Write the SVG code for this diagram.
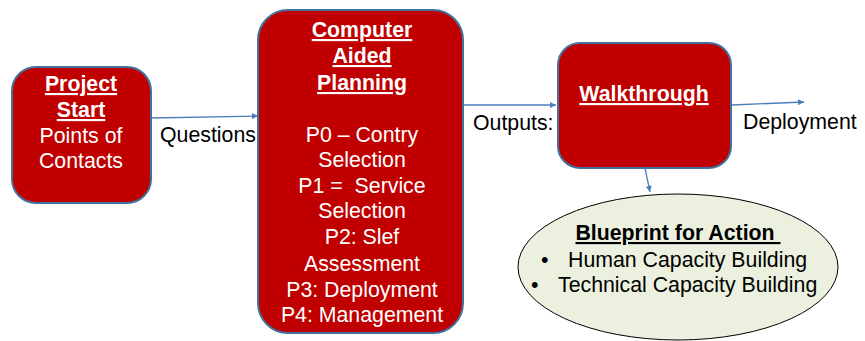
<svg xmlns="http://www.w3.org/2000/svg" width="865" height="341" viewBox="0 0 865 341">
<style>
.box{fill:#c00000;stroke:#41719c;stroke-width:2}
.wt{fill:#fff;font-family:"Liberation Sans",Arial,sans-serif;font-size:21.3px;text-anchor:middle}
.b{font-weight:bold;text-decoration:underline}
.lbl{fill:#000;font-family:"Liberation Sans",Arial,sans-serif;font-size:21.3px}
.con{stroke:#4a7ebb;stroke-width:1.3;fill:none;marker-end:url(#ah)}
</style>
<defs>
<marker id="ah" viewBox="0 0 10 10" refX="10" refY="5" markerWidth="7" markerHeight="6" markerUnits="userSpaceOnUse" orient="auto">
<path d="M0,0 L10,5 L0,10 z" fill="#4a7ebb"/>
</marker>
</defs>
<rect width="865" height="341" fill="#fff"/>
<g id="connectors">
<line class="con" x1="151" y1="118" x2="258" y2="116"/>
<line class="con" x1="464" y1="105" x2="556" y2="105"/>
<line class="con" x1="732" y1="105" x2="804" y2="102"/>
<line class="con" x1="645" y1="168" x2="650" y2="192"/>
<text class="lbl" x="160" y="142">Questions</text>
<text class="lbl" x="473" y="130">Outputs:</text>
<text class="lbl" x="743" y="129">Deployment</text>
</g>
<g id="project-start">
<rect class="box" x="12" y="67" width="139" height="136" rx="24"/>
<text class="wt" x="81"><tspan class="b" x="81" y="91">Project</tspan><tspan class="b" x="81" y="117">Start</tspan><tspan x="81" y="143">Points of</tspan><tspan x="81" y="168">Contacts</tspan></text>
</g>
<g id="computer-aided-planning">
<rect class="box" x="258" y="10" width="205" height="323" rx="30"/>
<text class="wt" x="362"><tspan class="b" x="362" y="37">Computer</tspan><tspan class="b" x="362" y="63">Aided</tspan><tspan class="b" x="362" y="90">Planning</tspan><tspan x="362" y="142">P0 – Contry</tspan><tspan x="362" y="167">Selection</tspan><tspan x="362" y="193" xml:space="preserve">P1 =  Service</tspan><tspan x="362" y="218">Selection</tspan><tspan x="362" y="244">P2: Slef</tspan><tspan x="362" y="271">Assessment</tspan><tspan x="362" y="297">P3: Deployment</tspan><tspan x="362" y="322">P4: Management</tspan></text>
</g>
<g id="walkthrough">
<rect class="box" x="558" y="43" width="173" height="125" rx="22"/>
<text class="wt b" x="644" y="101">Walkthrough</text>
</g>
<g id="blueprint">
<ellipse cx="678" cy="267" rx="160" ry="73" fill="#ebf1de" stroke="#000" stroke-width="1"/>
<text class="lbl" x="678" y="240" text-anchor="middle" font-weight="bold" text-decoration="underline" xml:space="preserve">Blueprint for Action </text>
<text class="lbl" x="541" y="267">•</text>
<text class="lbl" x="568" y="267">Human Capacity Building</text>
<text class="lbl" x="531" y="292">•</text>
<text class="lbl" x="558" y="292">Technical Capacity Building</text>
</g>
</svg>
